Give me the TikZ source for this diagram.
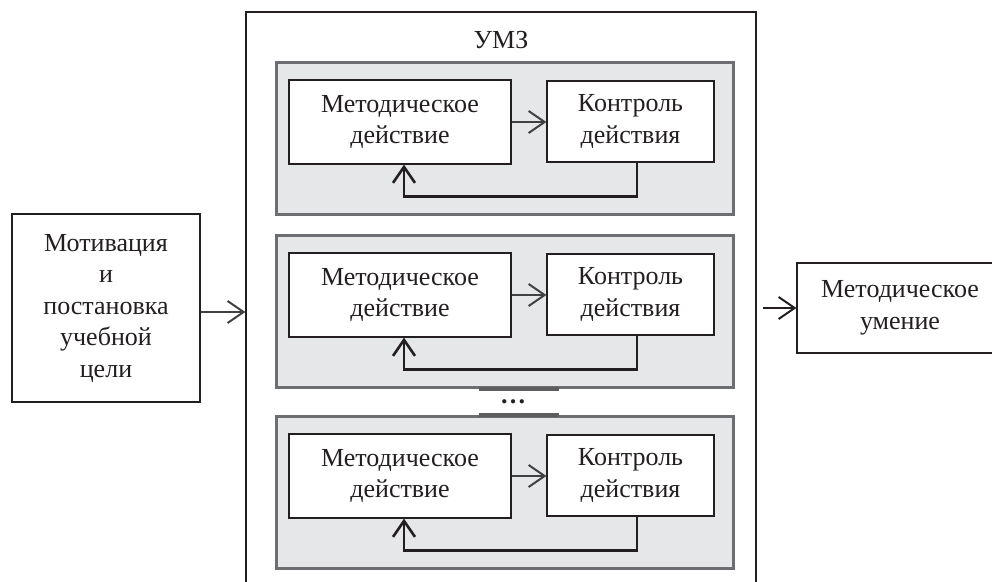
\documentclass[tikz,border=0pt]{standalone}
\usepackage{fontspec}
\setmainfont{Liberation Serif}
\usetikzlibrary{arrows.meta}
\definecolor{ink}{HTML}{231F20}
\definecolor{panelfill}{HTML}{E6E7E8}
\definecolor{panelline}{HTML}{6D6E71}
\definecolor{arrowgray}{HTML}{414042}

\tikzset{
  txt/.style={font=\fontsize{26}{31.5}\selectfont, text=ink, align=center},
  box/.style={txt, draw=ink, line width=1.2pt, fill=white, inner sep=0pt},
  panel/.style={draw=panelline, line width=3pt, fill=panelfill,
    minimum width=457pt, minimum height=152pt, inner sep=0pt},
  barb/.style={-{Straight Barb[length=16pt,width=22pt]}},
  flow/.style={barb, draw=arrowgray, line width=2pt},
  result/.style={barb, draw=ink, line width=2pt},
  back/.style={barb, draw=ink, line width=2.6pt},
  gapbar/.style={draw=panelline!85!black, line width=4pt},
}

\begin{document}
\begin{tikzpicture}[x=1pt,y=-1pt]
\useasboundingbox (0,0) rectangle (992,581);
\clip (0,0) rectangle (992,581);
\fill[white] (0,0) rectangle (992,581);

% outer frame of the module
\node[draw=ink, line width=1.3pt, minimum width=510pt, minimum height=620pt,
      inner sep=0pt] (umz) at (501,322) {};
\node[txt] (title) at (501,40) {УМЗ};

% three action/control panels
\foreach \i/\y in {1/138, 2/311, 3/492} {
  \node[panel] (p\i) at (504.5,\y) {};
  \node[box, minimum width=222pt, minimum height=84pt] (m\i) at (400,\y-16)
       {Методическое\\действие};
  \node[box, minimum width=167pt, minimum height=81pt] (k\i) at (630.5,\y-16.5)
       {Контроль\\действия};
  \draw[flow] (m\i.east) -- (m\i.east -| k\i.west);
  \draw[back] ([xshift=6.5pt]k\i.south) -- ++(0,34) -| ([xshift=4pt]m\i.south);
}

% ellipsis between the second and third panels
\draw[gapbar] ([xshift=-25.5pt]p2.south) -- ([xshift=54.5pt]p2.south);
\draw[gapbar] ([xshift=-25.5pt]p3.north) -- ([xshift=54.5pt]p3.north);
\node[font=\bfseries\fontsize{26}{31}\selectfont, text=ink, inner sep=0pt]
     (dots) at (513,402) {…};

% input and output
\node[box, minimum width=188pt, minimum height=188pt] (goal) at (106,308)
     {Мотивация\\и\\постановка\\учебной\\цели};
\node[box, minimum width=206pt, minimum height=90pt] (skill) at (900,308)
     {Методическое\\умение};

\draw[flow] ([yshift=-4pt]goal.east) -- ([yshift=-4pt]goal.east -| umz.west);
\draw[result] ([xshift=6pt]umz.east |- skill.west) -- (skill.west);
\end{tikzpicture}
\end{document}
